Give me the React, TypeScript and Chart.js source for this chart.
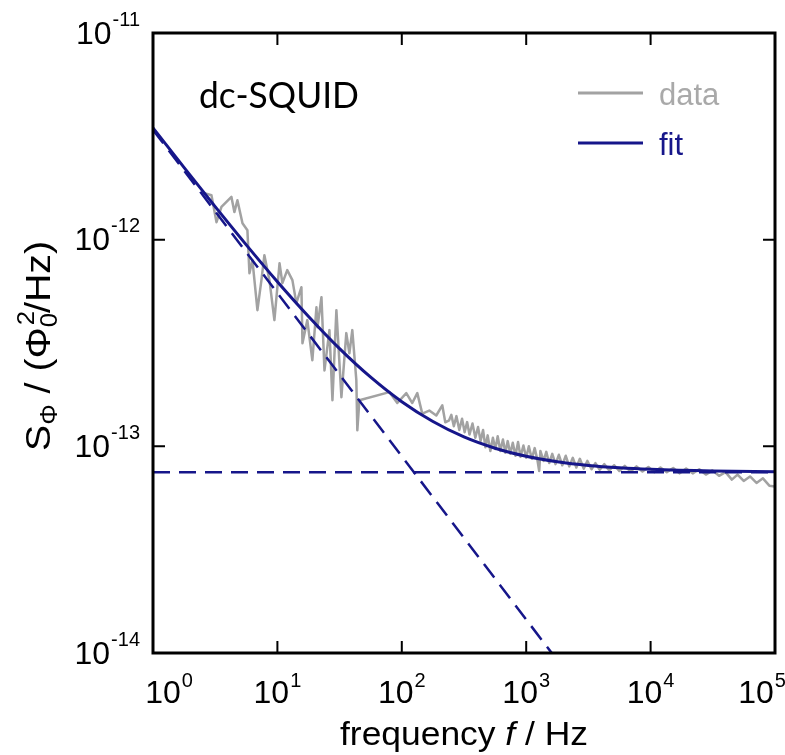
import React, { useEffect, useRef } from "react";
import { Chart, registerables } from "chart.js";

Chart.register(...registerables);

// ---- values (PSD in units of 1e-13 Φ0²/Hz) ----
const dataFreqHz = [
  2.59, 2.95, 3.24, 3.55, 4.27, 4.51, 4.77, 5.24, 5.74, 5.96, 6.3, 6.91, 7.44, 7.86, 8.63, 9.46,
  10.4, 10.97, 12.0, 13.2, 14.2, 15.6, 15.9, 17.4, 19.1, 20.6, 21.0, 22.6, 23.9, 26.2, 27.7, 29.8,
  32.7, 35.8, 37.9, 40.0, 43.1, 43.9, 45.6, 79.4, 92.0, 108.7, 121.4, 133.2, 146.1, 166.3, 189.3,
  211.5, 223.6, 240,
  250, 262, 275, 290, 305, 320, 335, 350, 370, 390, 410, 430, 450, 470, 490, 515, 540, 565, 590,
  620, 650, 680, 710, 745, 780, 820, 860, 900, 950, 1000, 1050, 1110, 1170, 1230, 1272, 1300,
  1380, 1450, 1530, 1620, 1720, 1830, 1950, 2080, 2220, 2370, 2530, 2700, 2900, 3100, 3350, 3600,
  3900, 4250, 4650, 5100, 5600, 6200, 6900, 7700, 8600, 9600, 10700, 12000, 13500, 15200, 17100,
  19300, 21800, 24600, 27800, 31400, 35500, 40000, 45000, 50000, 56000, 63000, 71000, 80000,
  90000, 100000,
];
const dataPsd = [
  16.8, 16.4, 12.15, 14.4, 16.1, 13.6, 15.5, 12.0, 11.1, 6.88, 7.96, 4.56, 6.37, 8.41, 6.37, 4.08,
  7.69, 6.16, 7.12, 6.37, 4.93, 5.89, 3.15, 4.08, 2.61, 4.71, 3.77, 5.27, 2.33, 3.65, 1.67, 4.56,
  1.73, 3.53, 2.82, 3.65, 2.09, 1.195, 1.67, 1.83, 1.62, 1.81, 1.62, 1.81, 1.44, 1.49, 1.41,
  1.58, 1.307, 1.336,
  1.42, 1.25, 1.4, 1.2, 1.36, 1.17, 1.31, 1.14, 1.29, 1.1, 1.24, 1.06, 1.2, 0.99, 1.13, 0.95, 1.1,
  0.97, 1.12, 0.95, 1.08, 0.93, 1.06, 0.92, 1.04, 0.9, 1.05, 0.89, 1.01, 0.88, 1.0, 0.87, 0.98,
  0.86, 0.76, 0.95, 0.85, 0.94, 0.83, 0.92, 0.82, 0.91, 0.81, 0.9, 0.8, 0.88, 0.79, 0.87, 0.78,
  0.85, 0.775, 0.83, 0.77, 0.82, 0.765, 0.81, 0.76, 0.805, 0.755, 0.8, 0.755, 0.795, 0.75, 0.79,
  0.75, 0.785, 0.74, 0.78, 0.74, 0.775, 0.73, 0.765, 0.72, 0.75, 0.69, 0.73, 0.68, 0.715,
  0.665, 0.7, 0.645, 0.64,
];
const fitFreqHz = [1, 1.78, 3.16, 5.62, 10, 17.8, 31.6, 56.2, 100, 178, 316, 562, 1000, 1780, 3160, 5620, 10000, 31600, 100000];
const fitPsd = [34.75, 22.33, 14.44, 9.44, 6.26, 4.25, 2.97, 2.16, 1.644, 1.318, 1.11, 0.979, 0.895, 0.842, 0.808, 0.787, 0.774, 0.76, 0.754];
const flickerFreqHz = [1, 2000];
const flickerPsd = [34.0, 0.084];
const whiteFreqHz = [1, 100000];
const whitePsd = [0.75, 0.75];
const xTickExponents = [0, 1, 2, 3, 4, 5];
const yTickExponents = [-14, -13, -12, -11];
const legendLabels = ["data", "fit"];
const annotationText = "dc-SQUID";

const UNIT = 1e-13;
const NAVY = "#16168a";
const GRAY = "#a2a2a2";
const SANS = '"Liberation Sans", Arial, sans-serif';

const pts = (xs: number[], ys: number[]) => xs.map((x, i) => ({ x, y: ys[i] * UNIT }));

function drawScaled(ctx: CanvasRenderingContext2D, text: string, x: number, y: number, font: string, sx: number, color = "#000") {
  ctx.save();
  ctx.font = font;
  ctx.fillStyle = color;
  ctx.textAlign = "left";
  ctx.textBaseline = "alphabetic";
  ctx.translate(x, y);
  ctx.scale(sx, 1);
  ctx.fillText(text, 0, 0);
  ctx.restore();
}

function textW(ctx: CanvasRenderingContext2D, text: string, font: string) {
  ctx.save();
  ctx.font = font;
  const w = ctx.measureText(text).width;
  ctx.restore();
  return w;
}

function drawPower(ctx: CanvasRenderingContext2D, exp: number, x: number, baseY: number, align: "center" | "right", raise: number) {
  const sx = 1.0;
  const mf = `32px ${SANS}`;
  const sf = `20px ${SANS}`;
  const wm = textW(ctx, "10", mf) * sx;
  const ws = textW(ctx, String(exp), sf) * sx;
  const total = wm + 1 + ws;
  const x0 = align === "center" ? x - total / 2 : x - total;
  drawScaled(ctx, "10", x0, baseY, mf, sx);
  drawScaled(ctx, String(exp), x0 + wm + 1, baseY - raise, sf, sx);
}

type Seg = { t: string; size: number; shift: number; italic?: boolean; stackNext?: boolean };

function drawRich(ctx: CanvasRenderingContext2D, segs: Seg[], targetW: number) {
  const font = (s: Seg) => `${s.italic ? "italic " : ""}${s.size}px ${SANS}`;
  let natural = 0;
  for (let i = 0; i < segs.length; i++) {
    const s = segs[i];
    if (s.stackNext) {
      const n = segs[i + 1];
      natural += Math.max(textW(ctx, s.t, font(s)), textW(ctx, n.t, font(n)));
      i++;
    } else natural += textW(ctx, s.t, font(s));
  }
  const sx = targetW / natural;
  let x = -targetW / 2;
  for (let i = 0; i < segs.length; i++) {
    const s = segs[i];
    if (s.stackNext) {
      const n = segs[i + 1];
      drawScaled(ctx, s.t, x, s.shift, font(s), sx);
      drawScaled(ctx, n.t, x + 2, n.shift, font(n), sx);
      x += Math.max(textW(ctx, s.t, font(s)), textW(ctx, n.t, font(n))) * sx;
      i++;
    } else {
      drawScaled(ctx, s.t, x, s.shift, font(s), sx);
      x += textW(ctx, s.t, font(s)) * sx;
    }
  }
}

const decorPlugin = {
  id: "decor",
  afterDatasetsDraw(chart: any) {
    const ctx: CanvasRenderingContext2D = chart.ctx;
    const { left, right, top, bottom } = chart.chartArea;
    const xs = chart.scales.x;
    const ys = chart.scales.y;
    ctx.save();
    ctx.strokeStyle = "#000";
    ctx.lineWidth = 2;
    const TL = 12;
    xTickExponents.forEach((e) => {
      const px = xs.getPixelForValue(Math.pow(10, e));
      ctx.beginPath();
      ctx.moveTo(px, bottom);
      ctx.lineTo(px, bottom - TL);
      ctx.moveTo(px, top);
      ctx.lineTo(px, top + TL);
      ctx.stroke();
    });
    yTickExponents.forEach((e) => {
      const py = ys.getPixelForValue(Math.pow(10, e));
      ctx.beginPath();
      ctx.moveTo(left, py);
      ctx.lineTo(left + TL, py);
      ctx.moveTo(right, py);
      ctx.lineTo(right - TL, py);
      ctx.stroke();
    });
    ctx.lineWidth = 3;
    ctx.strokeRect(left, top, right - left, bottom - top);

    xTickExponents.forEach((e, i) => {
      const px = xs.getPixelForValue(Math.pow(10, e));
      let shift = 0;
      if (i === 0) shift = 16;
      if (i === xTickExponents.length - 1) shift = -13;
      drawPower(ctx, e, px + shift, bottom + 50, "center", 16);
    });
    yTickExponents.forEach((e) => {
      const py = ys.getPixelForValue(Math.pow(10, e));
      drawPower(ctx, e, left - 13, py + 10.5, "right", 18);
    });

    // x title
    ctx.save();
    ctx.translate((left + right) / 2, 745);
    drawRich(
      ctx,
      [
        { t: "frequency ", size: 34, shift: 0 },
        { t: "f", size: 34, shift: 0, italic: true },
        { t: " / Hz", size: 34, shift: 0 },
      ],
      248
    );
    ctx.restore();

    // y title
    ctx.save();
    ctx.translate(50, (top + bottom) / 2 + 3);
    ctx.rotate(-Math.PI / 2);
    drawRich(
      ctx,
      [
        { t: "S", size: 35, shift: 0 },
        { t: "\u03A6", size: 23, shift: 7 },
        { t: " / (", size: 35, shift: 0 },
        { t: "\u03A6", size: 35, shift: 0 },
        { t: "0", size: 23, shift: 7, stackNext: true },
        { t: "2", size: 23, shift: -16 },
        { t: "/Hz)", size: 35, shift: 0 },
      ],
      210
    );
    ctx.restore();

    // legend
    const ds = chart.data.datasets;
    const legendY = [93, 143];
    legendLabels.forEach((lab, i) => {
      const d = ds.find((q: any) => q.label === lab);
      const col = d ? d.borderColor : "#000";
      ctx.strokeStyle = col;
      ctx.lineWidth = 3;
      ctx.beginPath();
      ctx.moveTo(578, legendY[i]);
      ctx.lineTo(643, legendY[i]);
      ctx.stroke();
      drawScaled(ctx, lab, 659, legendY[i] + 12, `31px ${SANS}`, 1.0, i === 0 ? "#a9a9a9" : NAVY);
    });

    // annotation
    const af = `36px Lato, "Open Sans", sans-serif`;
    const aw = textW(ctx, annotationText, af);
    drawScaled(ctx, annotationText, 199, 108, af, 160 / aw);
    ctx.restore();
  },
};

export default function App() {
  const ref = useRef<HTMLCanvasElement | null>(null);
  useEffect(() => {
    if (!ref.current) return;
    const chart = new Chart(ref.current, {
      type: "line",
      data: {
        datasets: [
          {
            label: "fit",
            data: pts(fitFreqHz, fitPsd),
            borderColor: NAVY,
            borderWidth: 3,
            pointRadius: 0,
            cubicInterpolationMode: "monotone",
            order: 0,
          },
          {
            label: "1/f",
            data: pts(flickerFreqHz, flickerPsd),
            borderColor: NAVY,
            borderWidth: 2.5,
            borderDash: [17, 9],
            pointRadius: 0,
            order: 1,
          },
          {
            label: "white",
            data: pts(whiteFreqHz, whitePsd),
            borderColor: NAVY,
            borderWidth: 2.5,
            borderDash: [17, 9],
            pointRadius: 0,
            order: 1,
          },
          {
            label: "data",
            data: pts(dataFreqHz, dataPsd),
            borderColor: GRAY,
            borderWidth: 2.5,
            borderJoinStyle: "round",
            pointRadius: 0,
            tension: 0,
            order: 2,
          },
        ],
      } as any,
      options: {
        animation: false,
        responsive: false,
        maintainAspectRatio: false,
        layout: { padding: { left: 153, right: 10, top: 33, bottom: 102 } },
        scales: {
          x: { type: "logarithmic", min: 1, max: 1e5, display: false },
          y: { type: "logarithmic", min: 1e-14, max: 1e-11, display: false },
        },
        plugins: { legend: { display: false }, tooltip: { enabled: false } },
      } as any,
      plugins: [decorPlugin],
    });
    return () => chart.destroy();
  }, []);
  return (
    <div style={{ position: "absolute", left: 0, top: 0, width: 785, height: 755, background: "#fff" }}>
      <canvas ref={ref} width={785} height={755} />
    </div>
  );
}
